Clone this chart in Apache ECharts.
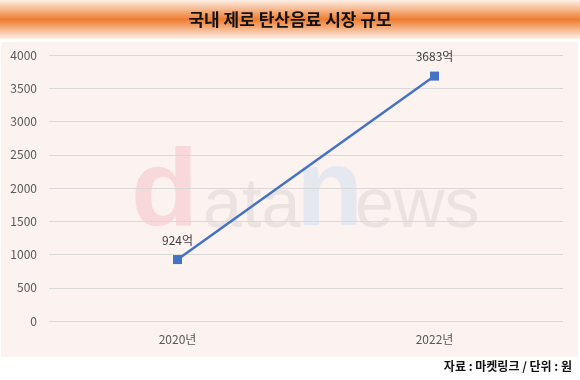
<!DOCTYPE html>
<html><head><meta charset="utf-8">
<script src="https://cdn.jsdelivr.net/npm/echarts@6/dist/echarts.min.js"></script>
<style>html,body{margin:0;padding:0;background:#fff}#c{width:580px;height:380px}</style>
</head><body><div id="c"></div>
<script>
const categories = ['2020년', '2022년'];
const values = [924, 3683];
const labelSuffix = '억';
const titleText = '국내 제로 탄산음료 시장 규모';
const sourceText = '자료 : 마켓링크 / 단위 : 원';

const FONT = '"Noto Sans CJK KR", "Noto Sans", sans-serif';
const WM = '"Liberation Sans", Arial, sans-serif';
const chart = echarts.init(document.getElementById('c'), null, {renderer: 'canvas'});
chart.setOption({
  animation: false,
  backgroundColor: '#ffffff',
  graphic: [
    {type: 'rect', z: -10, shape: {x: 0, y: 0, width: 580, height: 39},
     style: {fill: new echarts.graphic.LinearGradient(0, 0, 0, 1, [
       {offset: 0, color: '#fdf0e6'}, {offset: 0.5, color: '#ee7d30'}, {offset: 1, color: '#fdf0e8'}])}},
    {type: 'rect', z: -10, shape: {x: 1, y: 42, width: 577, height: 315}, style: {fill: '#fcf2ef'}},
    {type: 'text', z: -5, style: {text: titleText, x: 290, y: 20, align: 'center', verticalAlign: 'middle', font: 'bold 17px ' + FONT, fill: '#111'}},
    {type: 'text', z: -5, style: {text: 'd', x: 131, y: 195, verticalAlign: 'middle', font: 'bold 110px ' + WM, fill: '#f8d8d8'}},
    {type: 'text', z: -5, style: {text: 'ata', x: 203, y: 208, verticalAlign: 'middle', font: '70px ' + WM, fill: '#ebe3e2'}},
    {type: 'text', z: -5, style: {text: 'n', x: 296, y: 195, verticalAlign: 'middle', font: 'bold 110px ' + WM, fill: '#e5e8ee'}},
    {type: 'text', z: -5, style: {text: 'ews', x: 355, y: 208, verticalAlign: 'middle', font: '70px ' + WM, fill: '#ebe3e2'}},
    {type: 'text', z: -5, style: {text: sourceText, x: 572, y: 366, align: 'right', verticalAlign: 'middle', font: 'bold 12px ' + FONT, fill: '#111'}}
  ],
  grid: {left: 49, right: 17, top: 55, bottom: 59, containLabel: false},
  xAxis: {
    type: 'category', data: categories, boundaryGap: true,
    axisLine: {show: false}, axisTick: {show: false},
    axisLabel: {color: '#595959', fontSize: 12, fontFamily: FONT, margin: 12}
  },
  yAxis: {
    type: 'value', min: 0, max: 4000, interval: 500,
    axisLine: {show: false}, axisTick: {show: false},
    splitLine: {lineStyle: {color: '#d9d9d9', width: 1}},
    axisLabel: {color: '#595959', fontSize: 12, fontFamily: FONT, margin: 12, formatter: v => String(v)}
  },
  series: [{
    type: 'line', data: values,
    symbol: 'rect', symbolSize: 9,
    lineStyle: {color: '#4472c4', width: 2.5},
    itemStyle: {color: '#4472c4'},
    label: {show: true, position: 'top', distance: 9, color: '#404040', fontSize: 12, fontFamily: FONT,
      formatter: p => p.value + labelSuffix}
  }]
});
</script></body></html>
